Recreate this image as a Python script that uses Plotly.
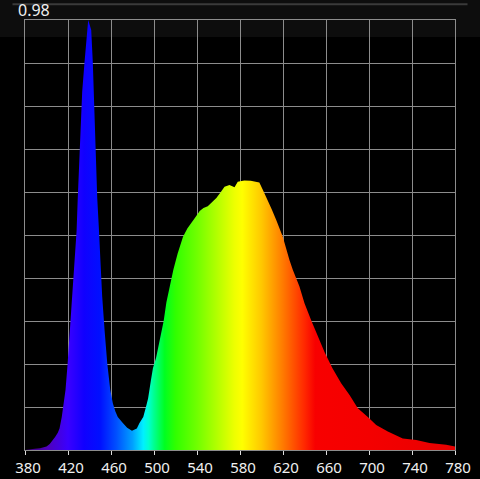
import plotly.graph_objects as go

# Spectrum (wavelength nm, relative intensity)
wavelengths = [380, 384, 389, 394, 398, 400, 403, 406, 408, 410.5, 412.1, 414.2, 415.8, 417.7,
               419.5, 421.5, 424, 426, 428, 429, 430, 431.3, 432.6, 433.2, 435.3, 437.5, 438.8,
               440, 441.6, 443.1, 444, 444.7, 445.6, 446.2, 447.2, 448.7, 450.2, 451.8, 454,
               456.5, 459.3, 461.7, 464, 466.3, 471, 475, 479.5, 484, 486.5, 490, 492.5, 494.5,
               497, 499, 502, 505, 507, 509, 511.5, 515, 518, 522, 524.5, 527, 531, 535, 539,
               542.5, 546, 550, 554, 558, 562.5, 565.6, 570.2, 574.9, 577.9, 584, 590, 595, 598,
               601.2, 606, 609.5, 613.7, 619.8, 626, 629.1, 635.3, 640, 646.2, 652.4, 658.6, 666,
               674.1, 681.9, 689.6, 698.9, 706.7, 717.5, 731.4, 743.9, 756.3, 771.8, 780]
intensity = [0.0, 0.002, 0.003, 0.004, 0.006, 0.008, 0.014, 0.023, 0.030, 0.040, 0.050, 0.077,
             0.112, 0.140, 0.196, 0.265, 0.355, 0.435, 0.510, 0.580, 0.647, 0.709, 0.798, 0.833,
             0.900, 0.977, 1.0, 0.99, 0.977, 0.900, 0.833, 0.798, 0.709, 0.647, 0.586, 0.516,
             0.435, 0.357, 0.279, 0.202, 0.140, 0.109, 0.090, 0.077, 0.063, 0.052, 0.045, 0.050,
             0.063, 0.077, 0.100, 0.120, 0.160, 0.190, 0.215, 0.250, 0.270, 0.300, 0.343, 0.385,
             0.419, 0.457, 0.478, 0.496, 0.515, 0.528, 0.543, 0.556, 0.563, 0.567, 0.577, 0.586,
             0.601, 0.612, 0.616, 0.611, 0.624, 0.627, 0.626, 0.623, 0.622, 0.605, 0.581, 0.560,
             0.535, 0.496, 0.442, 0.419, 0.380, 0.341, 0.302, 0.263, 0.228, 0.190, 0.155, 0.128,
             0.097, 0.077, 0.058, 0.043, 0.027, 0.023, 0.016, 0.012, 0.008]

tick_vals = [380, 420, 460, 500, 540, 580, 620, 660, 700, 740, 780]
peak_label = "0.98"

# wavelength colour stops (style)
color_stops = [
    (380, '#3c0070'), (400, '#5000b8'), (420, '#3a00ff'), (435, '#1000ff'),
    (450, '#0010ff'), (465, '#0050ff'), (480, '#00a0ff'), (490, '#00f0ff'),
    (495, '#00ffd0'), (500, '#00ff90'), (510, '#00ff20'), (520, '#30ff00'),
    (540, '#70ff00'), (560, '#b8ff00'), (575, '#eeff00'), (582, '#ffff00'),
    (600, '#ffc800'), (620, '#ff7a00'), (640, '#ff2800'), (650, '#f80000'),
    (700, '#f40000'), (780, '#e80000'),
]
colorscale = [[(w - 380) / 400.0, c] for w, c in color_stops]

fig = go.Figure()
fig.add_trace(go.Scatter(
    x=wavelengths, y=intensity, mode='lines', line=dict(width=0),
    fill='tozeroy',
    fillgradient=dict(type='horizontal', colorscale=colorscale, start=380, stop=780),
    hoverinfo='skip', showlegend=False,
))

W, H = 480, 479
L, T = 25.5, 20
PW, PH = 430, 430


def px_x(p):
    return (p - L) / PW


def px_y(p):
    return (T + PH - p) / PH


grid = '#8c8c8c'
fig.update_layout(
    width=W, height=H,
    margin=dict(l=25, r=25, t=20, b=29, pad=0, autoexpand=False),
    paper_bgcolor='#000000', plot_bgcolor='rgba(0,0,0,0)',
    xaxis=dict(range=[380, 780], tickvals=tick_vals, showgrid=True, gridcolor=grid, gridwidth=1,
               zeroline=False, showline=True, linecolor=grid, linewidth=1, mirror=True,
               ticks='outside', ticklen=4, tickcolor='#dddddd', tickwidth=1,
               ticklabelshift=3, ticklabelstandoff=0, automargin=False,
               tickfont=dict(family='Noto Sans', size=15, color='#f0f0f0')),
    yaxis=dict(range=[0, 1], dtick=0.1, tick0=0, showgrid=True, gridcolor=grid, gridwidth=1,
               zeroline=False, showline=True, linecolor=grid, linewidth=1, mirror=True,
               showticklabels=False, ticks='', automargin=False),
    shapes=[
        dict(type='rect', xref='paper', yref='paper', x0=px_x(-5), x1=px_x(485),
             y0=px_y(37), y1=px_y(-5), fillcolor='#0d0d0d', line=dict(width=0), layer='below'),
        dict(type='line', xref='paper', yref='paper', x0=px_x(13), x1=px_x(468),
             y0=px_y(4.2), y1=px_y(4.2), line=dict(color='#3a3a3a', width=2), layer='below'),
    ],
    annotations=[
        dict(text=peak_label, xref='paper', yref='paper', x=px_x(16.5), y=px_y(10),
             xanchor='left', yanchor='middle', showarrow=False,
             font=dict(family='Noto Sans', size=16, color='#f0f0f0')),
    ],
)

fig.write_html("out.html", config={'displayModeBar': False},
               post_script="document.body.style.margin='0px';document.body.style.background='#000';")
